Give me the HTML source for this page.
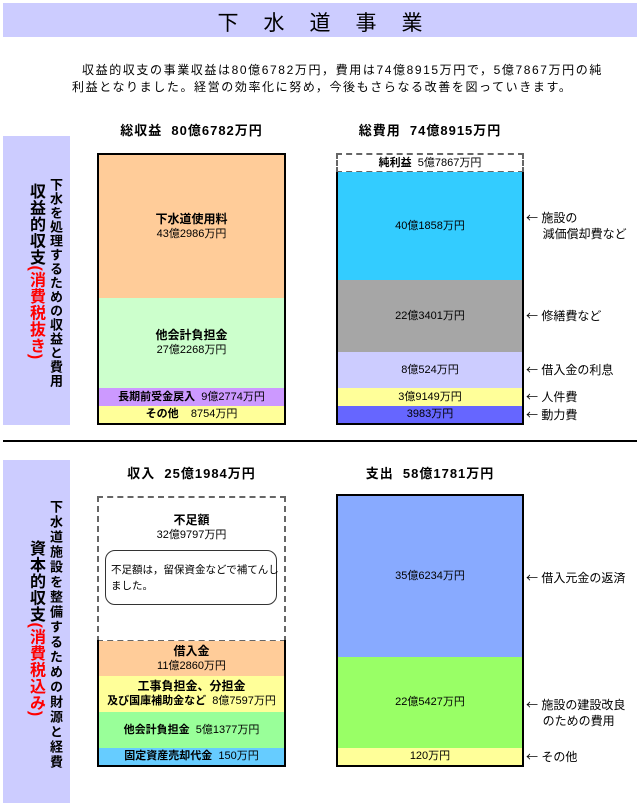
<!DOCTYPE html>
<html><head><meta charset="utf-8"><style>
*{margin:0;padding:0;box-sizing:border-box}
body{width:640px;height:803px;background:#fff;position:relative;overflow:hidden;font-family:"Liberation Sans","Noto Sans CJK JP",sans-serif;color:#000;font-size:12px}
.a{position:absolute}
.c{position:absolute;display:flex;flex-direction:column;align-items:center;justify-content:center;text-align:center;line-height:15px;font-size:11px;white-space:nowrap}
.b{font-weight:bold;font-size:12px}
.t{position:absolute;font-weight:bold;font-size:13px;text-align:center;white-space:nowrap;letter-spacing:1px}
.v{position:absolute;writing-mode:vertical-rl;white-space:nowrap;font-weight:bold}
.n{position:absolute;font-size:12px;white-space:nowrap;line-height:16px}
.ar{font-family:"Noto Sans CJK JP",sans-serif}
.r{color:#f00}
</style></head><body>
<div class="a" style="left:3px;top:3px;width:634px;height:34px;background:#ccccff"></div>
<div class="a" style="left:0;top:7px;width:640px;text-align:center;font-size:21px;letter-spacing:25px;padding-left:25px">下水道事業</div>
<div class="n" style="left:82px;top:62px;letter-spacing:1.6px">収益的収支の事業収益は80億6782万円，費用は74億8915万円で，5億7867万円の純</div>
<div class="n" style="left:72px;top:79px;letter-spacing:1.6px">利益となりました。経営の効率化に努め，今後もさらなる改善を図っていきます。</div>

<div class="t" style="left:97px;width:189px;top:120px">総収益&nbsp; 80億6782万円</div>
<div class="t" style="left:336px;width:188px;top:120px">総費用&nbsp; 74億8915万円</div>

<div class="a" style="left:3px;top:136px;width:67px;height:289px;background:#ccccff"></div>
<div class="v" style="left:26px;top:183px;font-size:16px;line-height:18px;letter-spacing:0.5px">収益的収支<span class="r">(消費税抜き)</span></div>
<div class="v" style="left:48px;top:178px;font-size:13px;line-height:15px;letter-spacing:1px">下水を処理するための収益と費用</div>

<div class="a" style="left:97px;top:153px;width:189px;height:272px;border:2px solid #000"></div>
<div class="c" style="left:99px;top:155px;width:185px;height:143px;background:#ffcc99"><span class="b">下水道使用料</span>43億2986万円</div>
<div class="c" style="left:99px;top:298px;width:185px;height:90px;background:#ccffcc"><span class="b">他会計負担金</span>27億2268万円</div>
<div class="c" style="left:99px;top:388px;width:185px;height:18px;background:#cc99ff"><span><b>長期前受金戻入</b>&nbsp; 9億2774万円</span></div>
<div class="c" style="left:99px;top:406px;width:185px;height:17px;background:#ffff99"><span><b>その他</b>&nbsp;&nbsp;&nbsp; 8754万円</span></div>

<div class="a" style="left:336px;top:153px;width:188px;height:20px;border:2px dashed #666"></div>
<div class="c" style="left:338px;top:155px;width:184px;height:16px"><span><b>純利益</b>&nbsp; 5億7867万円</span></div>
<div class="a" style="left:336px;top:172px;width:188px;height:253px;border:2px solid #000;border-top:none"></div>
<div class="c" style="left:338px;top:172px;width:184px;height:108px;background:#33ccff">40億1858万円</div>
<div class="c" style="left:338px;top:280px;width:184px;height:72px;background:#a6a6a6">22億3401万円</div>
<div class="c" style="left:338px;top:352px;width:184px;height:36px;background:#ccccff">8億524万円</div>
<div class="c" style="left:338px;top:388px;width:184px;height:18px;background:#ffff99">3億9149万円</div>
<div class="c" style="left:338px;top:406px;width:184px;height:17px;background:#6666ff">3983万円</div>
<div class="n" style="left:526px;top:210px"><span class="ar">←</span> 施設の<br>&nbsp;&nbsp;&nbsp;&nbsp; 減価償却費など</div>
<div class="n" style="left:526px;top:308px"><span class="ar">←</span> 修繕費など</div>
<div class="n" style="left:526px;top:362px"><span class="ar">←</span> 借入金の利息</div>
<div class="n" style="left:526px;top:389px"><span class="ar">←</span> 人件費</div>
<div class="n" style="left:526px;top:407px"><span class="ar">←</span> 動力費</div>

<div class="a" style="left:3px;top:440px;width:634px;height:2px;background:#000"></div>

<div class="t" style="left:97px;width:189px;top:463px">収入&nbsp; 25億1984万円</div>
<div class="t" style="left:336px;width:188px;top:463px">支出&nbsp; 58億1781万円</div>

<div class="a" style="left:3px;top:460px;width:67px;height:343px;background:#ccccff"></div>
<div class="v" style="left:26px;top:540px;font-size:16px;line-height:18px;letter-spacing:0.5px">資本的収支<span class="r">(消費税込み)</span></div>
<div class="v" style="left:48px;top:500px;font-size:13px;line-height:15px;letter-spacing:2px">下水道施設を整備するための財源と経費</div>

<div class="a" style="left:97px;top:496px;width:189px;height:146px;border:2px dashed #666"></div>
<div class="c" style="left:99px;top:512px;width:185px;height:32px"><span class="b">不足額</span>32億9797万円</div>
<div class="a" style="left:105px;top:550px;width:172px;height:55px;border:1px solid #333;border-radius:10px;background:#fff;font-size:10.5px;line-height:16px;padding:11px 0 0 5px;white-space:nowrap">不足額は，留保資金などで補てんし<br>ました。</div>
<div class="a" style="left:97px;top:640px;width:189px;height:127px;border:2px solid #000;border-top:none"></div>
<div class="c" style="left:99px;top:641px;width:185px;height:35px;background:#ffcc99"><span class="b">借入金</span>11億2860万円</div>
<div class="c" style="left:99px;top:676px;width:185px;height:36px;background:#ffff99"><span class="b">工事負担金、分担金</span><span><b>及び国庫補助金など</b>&nbsp; 8億7597万円</span></div>
<div class="c" style="left:99px;top:712px;width:185px;height:36px;background:#99ff99"><span><b>他会計負担金</b>&nbsp; 5億1377万円</span></div>
<div class="c" style="left:99px;top:748px;width:185px;height:17px;background:#66ccff"><span><b>固定資産売却代金</b>&nbsp; 150万円</span></div>

<div class="a" style="left:336px;top:494px;width:188px;height:273px;border:2px solid #000"></div>
<div class="c" style="left:338px;top:496px;width:184px;height:161px;background:#88aaff">35億6234万円</div>
<div class="c" style="left:338px;top:657px;width:184px;height:91px;background:#99ff66">22億5427万円</div>
<div class="c" style="left:338px;top:748px;width:184px;height:17px;background:#ffff99">120万円</div>
<div class="n" style="left:526px;top:570px"><span class="ar">←</span> 借入元金の返済</div>
<div class="n" style="left:526px;top:697px"><span class="ar">←</span> 施設の建設改良<br>&nbsp;&nbsp;&nbsp;&nbsp; のための費用</div>
<div class="n" style="left:526px;top:749px"><span class="ar">←</span> その他</div>
</body></html>
